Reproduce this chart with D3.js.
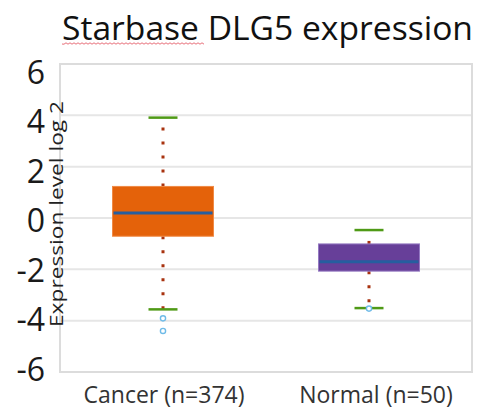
<!DOCTYPE html>
<html>
<head>
<meta charset="utf-8">
<script src="https://cdn.jsdelivr.net/npm/d3@7"></script>
<style>
  body { margin: 0; background: #fff; }
  svg { display: block; font-family: "Open Sans", sans-serif; }
</style>
</head>
<body>
<svg id="chart" width="481" height="414"></svg>
<script>
// data
const categories = ["Cancer (n=374)", "Normal (n=50)"];
const q1 = [-0.71, -2.07];
const medians = [0.19, -1.70];
const q3 = [1.23, -1.01];
const whiskerLow = [-3.56, -3.51];
const whiskerHigh = [3.91, -0.47];
const outliers = [[-3.91, -4.40], [-3.53]];
const yTicks = [-6, -4, -2, 0, 2, 4, 6];
const boxColors = ["#e4620a", "#673f99"];
const boxEdges = ["#f08a45", "#9479c2"];

const svg = d3.select("#chart");
const plotLeft = 60, plotRight = 472, plotTop = 64, plotBottom = 372;

const y = d3.scaleLinear().domain([-6, 6]).range([plotBottom, plotTop]);
// tick labels in the picture sit on a slightly tighter spacing than the grid
const yLabel = d3.scaleLinear().domain([-6, 6]).range([369, 72.5]);
const x = d3.scalePoint().domain(categories).range([plotLeft, plotRight]).padding(0.5);

// size a text so its natural width matches the picture
function fitWidth(sel, width) {
    const fs = +sel.attr("font-size");
    const w = sel.node().getComputedTextLength();
    sel.attr("font-size", fs * width / w);
}

// title
const title = svg.append("text")
    .attr("x", 62).attr("y", 40)
    .attr("font-size", 35)
    .attr("fill", "#111")
    .text("Starbase DLG5 expression");
fitWidth(title, 411);

// spell-check squiggle under "Starbase"
const sq = d3.path();
sq.moveTo(62, 44);
for (let i = 62; i < 203; i += 2) sq.lineTo(i + 2, (i / 2) % 2 === 0 ? 42.8 : 44.2);
svg.append("path").attr("d", sq.toString())
    .attr("fill", "none").attr("stroke", "#e8707a").attr("stroke-width", 1);

// grid lines
svg.append("g").selectAll("line")
    .data(yTicks.filter(t => t !== -6 && t !== 6))
    .join("line")
    .attr("x1", plotLeft).attr("x2", plotRight)
    .attr("y1", d => y(d)).attr("y2", d => y(d))
    .attr("stroke", "#e6e6e6").attr("stroke-width", 2);

// plot frame
svg.append("rect")
    .attr("x", plotLeft).attr("y", y(6))
    .attr("width", plotRight - plotLeft).attr("height", y(-6) - y(6))
    .attr("fill", "none").attr("stroke", "#dcdcdc").attr("stroke-width", 2);

// y tick labels
svg.append("g").selectAll("text")
    .data(yTicks)
    .join("text")
    .attr("x", 45)
    .attr("y", d => yLabel(d))
    .attr("dy", "0.36em")
    .attr("text-anchor", "end")
    .attr("font-size", 32)
    .attr("fill", "#1a1a1a")
    .text(d => d);

// y axis title
svg.append("text")
    .attr("transform", "translate(63,214) rotate(-90)")
    .attr("text-anchor", "middle")
    .attr("font-size", 19)
    .attr("fill", "#222")
    .attr("textLength", 226)
    .attr("lengthAdjust", "spacingAndGlyphs")
    .text("Expression level log 2");

const boxW = 101, capW = 29;
const boxes = svg.append("g").selectAll("g")
    .data(categories)
    .join("g");

// whiskers (dotted, from box edge to cap)
boxes.append("line")
    .attr("x1", d => x(d)).attr("x2", d => x(d))
    .attr("y1", (d, i) => y(q3[i])).attr("y2", (d, i) => y(whiskerHigh[i]))
    .attr("stroke", "#a8320f").attr("stroke-width", 3)
    .attr("stroke-dasharray", "3,11");
boxes.append("line")
    .attr("x1", d => x(d)).attr("x2", d => x(d))
    .attr("y1", (d, i) => y(q1[i])).attr("y2", (d, i) => y(whiskerLow[i]))
    .attr("stroke", "#a8320f").attr("stroke-width", 3)
    .attr("stroke-dasharray", "3,11");

// caps
[whiskerHigh, whiskerLow].forEach(arr => {
    boxes.append("line")
        .attr("x1", d => x(d) - capW / 2).attr("x2", d => x(d) + capW / 2)
        .attr("y1", (d, i) => y(arr[i])).attr("y2", (d, i) => y(arr[i]))
        .attr("stroke", "#4f9a16").attr("stroke-width", 2.5);
});

// boxes
boxes.append("rect")
    .attr("x", d => x(d) - boxW / 2)
    .attr("y", (d, i) => y(q3[i]))
    .attr("width", boxW)
    .attr("height", (d, i) => y(q1[i]) - y(q3[i]))
    .attr("fill", (d, i) => boxColors[i])
    .attr("stroke", (d, i) => boxEdges[i])
    .attr("stroke-width", 1);

// medians
boxes.append("line")
    .attr("x1", d => x(d) - boxW / 2 + 1).attr("x2", d => x(d) + boxW / 2 - 1)
    .attr("y1", (d, i) => y(medians[i])).attr("y2", (d, i) => y(medians[i]))
    .attr("stroke", "#265e9f").attr("stroke-width", 3);

// outliers
boxes.selectAll("circle")
    .data((d, i) => outliers[i].map(v => ({ cat: d, v })))
    .join("circle")
    .attr("cx", d => x(d.cat))
    .attr("cy", d => y(d.v))
    .attr("r", 2.6)
    .attr("fill", "#fff")
    .attr("stroke", "#6fbbe8")
    .attr("stroke-width", 1.4);

// x labels
svg.append("g").selectAll("text")
    .data(categories)
    .join("text")
    .attr("x", (d, i) => x(d) + (i === 1 ? 7 : 1))
    .attr("y", 403)
    .attr("text-anchor", "middle")
    .attr("font-size", 23)
    .attr("fill", "#333")
    .text(d => d);
</script>
</body>
</html>
